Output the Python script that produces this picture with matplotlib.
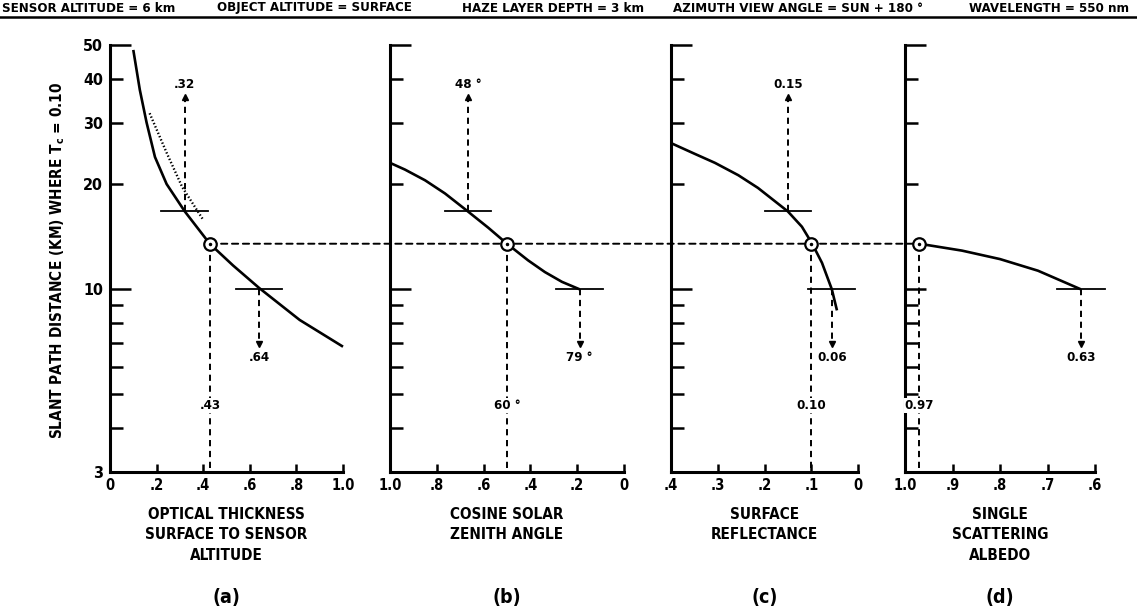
import matplotlib
matplotlib.use('Agg')
import matplotlib.pyplot as plt
from matplotlib import font_manager
from matplotlib.patches import ConnectionPatch

names = {f.name for f in font_manager.fontManager.ttflist}
FONT = 'Liberation Sans Narrow' if 'Liberation Sans Narrow' in names else 'DejaVu Sans'
plt.rcParams['font.family'] = [FONT, 'DejaVu Sans']
plt.rcParams['font.stretch'] = 'condensed'
plt.rcParams['font.weight'] = 'bold'
plt.rcParams['mathtext.default'] = 'regular'

# ---- data ----
header = ["SENSOR ALTITUDE = 6 km", "OBJECT ALTITUDE = SURFACE", "HAZE LAYER DEPTH = 3 km",
          "AZIMUTH VIEW ANGLE = SUN + 180 °", "WAVELENGTH = 550 nm"]
header_x = [2, 217, 462, 673, 969]

y_cross = 13.5  # slant distance where all panels meet

# (a) optical thickness
a_x = [0.10, 0.128, 0.157, 0.193, 0.243, 0.321, 0.428, 0.528, 0.639, 0.814, 1.00]
a_y = [48.4, 37.2, 30.0, 23.9, 20.0, 16.7, 13.5, 11.7, 10.1, 8.17, 6.85]
a_dot_x = [0.17, 0.244, 0.31, 0.40]
a_dot_y = [31.9, 24.5, 19.6, 15.8]
# (b) cosine solar zenith angle
b_x = [1.0, 0.936, 0.85, 0.765, 0.667, 0.58, 0.5, 0.41, 0.338, 0.265, 0.19]
b_y = [23.0, 22.0, 20.5, 18.8, 16.7, 15.0, 13.5, 12.1, 11.2, 10.5, 10.0]
# (c) surface reflectance
c_x = [0.40, 0.349, 0.306, 0.256, 0.214, 0.15, 0.12, 0.098, 0.077, 0.056, 0.045]
c_y = [26.2, 24.4, 23.0, 21.2, 19.5, 16.7, 15.1, 13.5, 11.9, 10.0, 8.7]
# (d) single scattering albedo
d_x = [0.97, 0.88, 0.80, 0.72, 0.63]
d_y = [13.5, 12.9, 12.2, 11.3, 10.0]

# panel settings: xlim, ticks, tick labels, crossing value, up/down marks
panels = [
    dict(xlim=(0, 1.0), ticks=[0, .2, .4, .6, .8, 1.0], labels=["0", ".2", ".4", ".6", ".8", "1.0"],
         x=a_x, y=a_y, cross=0.43, cross_lab=".43", up=(0.32, ".32"), down=(0.64, ".64"),
         half=0.1, title="OPTICAL THICKNESS\nSURFACE TO SENSOR\nALTITUDE", tag="(a)"),
    dict(xlim=(1.0, 0), ticks=[1.0, .8, .6, .4, .2, 0], labels=["1.0", ".8", ".6", ".4", ".2", "0"],
         x=b_x, y=b_y, cross=0.5, cross_lab="60 °", up=(0.667, "48 °"), down=(0.19, "79 °"),
         half=0.1, title="COSINE SOLAR\nZENITH ANGLE", tag="(b)"),
    dict(xlim=(0.4, 0), ticks=[.4, .3, .2, .1, 0], labels=[".4", ".3", ".2", ".1", "0"],
         x=c_x, y=c_y, cross=0.10, cross_lab="0.10", up=(0.15, "0.15"), down=(0.056, "0.06"),
         half=0.05, title="SURFACE\nREFLECTANCE", tag="(c)"),
    dict(xlim=(1.0, 0.6), ticks=[1.0, .9, .8, .7, .6], labels=["1.0", ".9", ".8", ".7", ".6"],
         x=d_x, y=d_y, cross=0.97, cross_lab="0.97", up=None, down=(0.63, "0.63"),
         half=0.05, title="SINGLE\nSCATTERING\nALBEDO", tag="(d)"),
]
y_up, y_down = 16.7, 10.0

W, H = 1137, 614
fig = plt.figure(figsize=(W / 100, H / 100), dpi=100)
fig.patch.set_facecolor('white')
boxes = [(110, 233), (390, 234), (671, 187), (905, 190)]
top_px, bot_px = 45, 472

dash = (0, (3.2, 2.4))
axes = []
for p, (lpx, wpx) in zip(panels, boxes):
    ax = fig.add_axes([lpx / W, 1 - bot_px / H, wpx / W, (bot_px - top_px) / H])
    ax.set_zorder(2)
    ax.patch.set_visible(False)
    ax.set_yscale('log')
    ax.set_ylim(3, 50)
    ax.set_xlim(*p['xlim'])
    for s in ['top', 'right']:
        ax.spines[s].set_visible(False)
    for s in ['left', 'bottom']:
        ax.spines[s].set_linewidth(2.2)
    ax.set_xticks(p['ticks'], labels=p['labels'])
    ax.set_yticks([10, 50], labels=['10', '50'])
    ax.set_yticks([3, 4, 5, 6, 7, 8, 9, 20, 30, 40],
                  labels=['3', '', '', '', '', '', '', '20', '30', '40'], minor=True)
    ax.tick_params(axis='x', direction='in', length=6, width=1.8, pad=4, labelsize=10.5)
    ax.tick_params(axis='y', which='major', direction='in', length=15, width=1.8, pad=5, labelsize=11.5)
    ax.tick_params(axis='y', which='minor', direction='in', length=9, width=1.8, pad=5, labelsize=11.5)
    if axes:
        ax.tick_params(axis='y', which='both', labelleft=False)

    ax.plot(p['x'], p['y'], color='black', lw=1.9, solid_capstyle='butt',
            solid_joinstyle='round', clip_on=False)

    # crosshair marks
    marks = [(p['down'][0], y_down)]
    if p['up'] is not None:
        marks.append((p['up'][0], y_up))
    for mx, my in marks:
        ax.plot([mx - p['half'], mx + p['half']], [my, my], color='black', lw=1.3, clip_on=False)

    # leader to the axis at the crossing value
    ax.plot([p['cross'], p['cross']], [y_cross, 3], color='black', lw=1.4, ls=dash)
    ax.text(p['cross'], 4.65, p['cross_lab'], ha='center', va='center', fontsize=9.5,
            bbox=dict(facecolor='white', edgecolor='none', pad=0.5), zorder=5)
    # up arrow
    if p['up'] is not None:
        ux, ulab = p['up']
        ax.plot([ux, ux], [y_up, 35.0], color='black', lw=1.4, ls=dash)
        ax.plot([ux], [35.5], marker='^', ms=4, color='black')
        ax.text(ux, 38.6, ulab, ha='center', va='center', fontsize=9.5)
    # down arrow
    dx_, dlab = p['down']
    ax.plot([dx_, dx_], [y_down, 7.05], color='black', lw=1.4, ls=dash)
    ax.plot([dx_], [6.95], marker='v', ms=4, color='black')
    ax.text(dx_, 6.4, dlab, ha='center', va='center', fontsize=9.5)

    # title lines and tag
    cx = (lpx + wpx / 2) / W
    fig.text(cx, 1 - 507 / H, p['title'], ha='center', va='top', fontsize=11,
             linespacing=1.45)
    fig.text(cx, 1 - 598 / H, p['tag'], ha='center', va='center', fontsize=14)
    axes.append(ax)

# intersection circles
for ax, p in zip(axes, panels):
    ax.plot([p['cross']], [y_cross], marker='o', ms=9, mfc='white', mec='black', mew=1.6,
            zorder=6, clip_on=False)
    ax.plot([p['cross']], [y_cross], marker='.', ms=3, color='black', zorder=7, clip_on=False)

# dotted companion curve in (a)
axes[0].plot(a_dot_x, a_dot_y, color='black', lw=1.7, ls=(0, (0.6, 0.9)))

con = ConnectionPatch(xyA=(panels[0]['cross'], y_cross), coordsA=axes[0].transData,
                      xyB=(panels[3]['cross'], y_cross), coordsB=axes[3].transData,
                      color='black', lw=1.4, linestyle=dash, zorder=1)
fig.add_artist(con)

# header
for txt, hx in zip(header, header_x):
    fig.text(hx / W, 1 - 8 / H, txt, ha='left', va='center', fontsize=9.5)
fig.add_artist(plt.Line2D([0, 1], [1 - 17 / H, 1 - 17 / H], color='black', lw=1.8))

fig.text(58 / W, 1 - 260 / H, "SLANT PATH DISTANCE (KM) WHERE T$_c$ = 0.10",
         rotation=90, ha='center', va='center', fontsize=11)

fig.savefig('out.png', dpi=100, facecolor='white')
